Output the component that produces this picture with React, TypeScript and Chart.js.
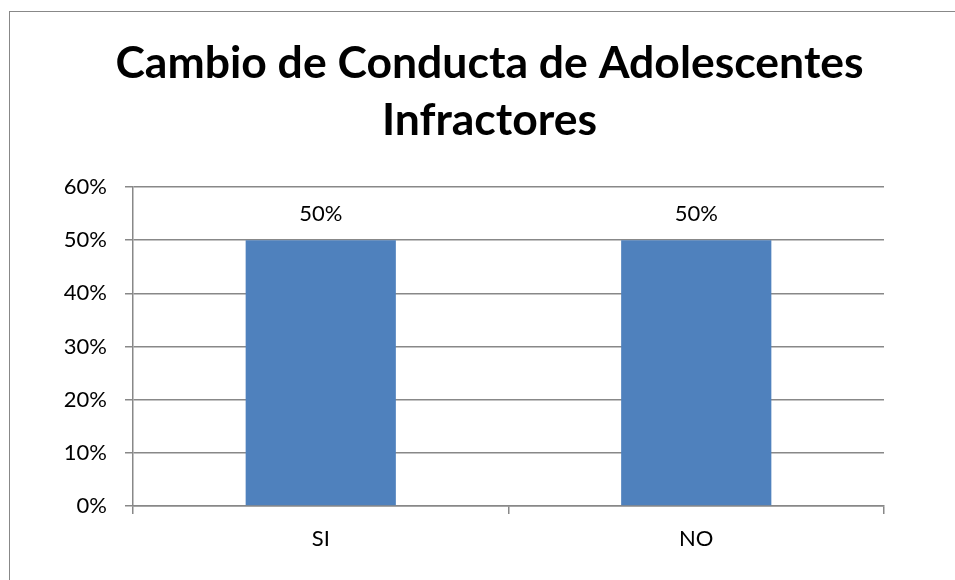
import React, { useEffect, useRef } from "react";
import { Chart, registerables } from "chart.js";

Chart.register(...registerables);

const categories = ["SI", "NO"];
const values = [0.5, 0.5];
const titleLines = ["Cambio de Conducta de Adolescentes", "Infractores"];
const yMax = 0.6;
const yStep = 0.1;

const FONT = "Lato, 'Open Sans', sans-serif";

const dataLabelPlugin = {
  id: "dataLabels",
  afterDatasetsDraw(chart: any) {
    const ctx = chart.ctx;
    const meta = chart.getDatasetMeta(0);
    ctx.save();
    ctx.font = `22px ${FONT}`;
    ctx.fillStyle = "#000";
    ctx.textAlign = "center";
    ctx.textBaseline = "alphabetic";
    meta.data.forEach((bar: any, i: number) => {
      const v = chart.data.datasets[0].data[i] as number;
      ctx.fillText(Math.round(v * 100) + "%", bar.x, bar.y - 19);
    });
    ctx.restore();
  },
};

const titlePlugin = {
  id: "customTitle",
  afterDraw(chart: any) {
    const ctx = chart.ctx;
    ctx.save();
    ctx.font = `bold 44.5px ${FONT}`;
    ctx.fillStyle = "#000";
    ctx.textAlign = "center";
    ctx.textBaseline = "alphabetic";
    const cx = 479.5;
    ctx.fillText(titleLines[0], cx, 66);
    ctx.fillText(titleLines[1], cx, 123);
    ctx.restore();
  },
};

export default function App() {
  const ref = useRef<HTMLCanvasElement>(null);
  useEffect(() => {
    const chart = new Chart(ref.current!, {
      type: "bar",
      data: {
        labels: categories,
        datasets: [
          {
            data: values,
            backgroundColor: "#4F81BD",
            barPercentage: 0.4,
            categoryPercentage: 1,
          },
        ],
      },
      options: {
        animation: false,
        responsive: false,
        layout: { padding: { left: 0, right: 72, top: 175, bottom: 36 } },
        plugins: {
          legend: { display: false },
          tooltip: { enabled: false },
          title: { display: false },
        },
        scales: {
          x: {
            grid: {
              display: true,
              drawOnChartArea: false,
              drawTicks: true,
              tickLength: 8,
              color: "#888",
              lineWidth: 1.5,
              offset: true,
            },
            border: { color: "#888", width: 1.5 },
            ticks: { color: "#000", font: { family: FONT, size: 22 }, padding: 12 },
            afterFit: (s: any) => {
              s.height = 60;
            },
          },
          y: {
            min: 0,
            max: yMax,
            grid: { color: "#888", lineWidth: 1.5, tickLength: 8 },
            border: { color: "#888", width: 1.5 },
            ticks: {
              stepSize: yStep,
              color: "#000",
              font: { family: FONT, size: 22 },
              padding: 18,
              callback: (v: any) => Math.round(Number(v) * 100) + "%",
            },
            afterFit: (s: any) => {
              s.width = 123;
            },
          },
        },
      },
      plugins: [dataLabelPlugin, titlePlugin],
    });
    return () => chart.destroy();
  }, []);
  return (
    <div style={{ position: "fixed", inset: 0, overflow: "hidden", background: "#fff" }}>
      <div
        style={{
          position: "absolute",
          left: 9,
          top: 11,
          width: 960,
          height: 600,
          borderLeft: "1px solid #888",
          borderTop: "1px solid #888",
        }}
      >
        <canvas ref={ref} width={946} height={590} style={{ display: "block" }} />
      </div>
    </div>
  );
}
